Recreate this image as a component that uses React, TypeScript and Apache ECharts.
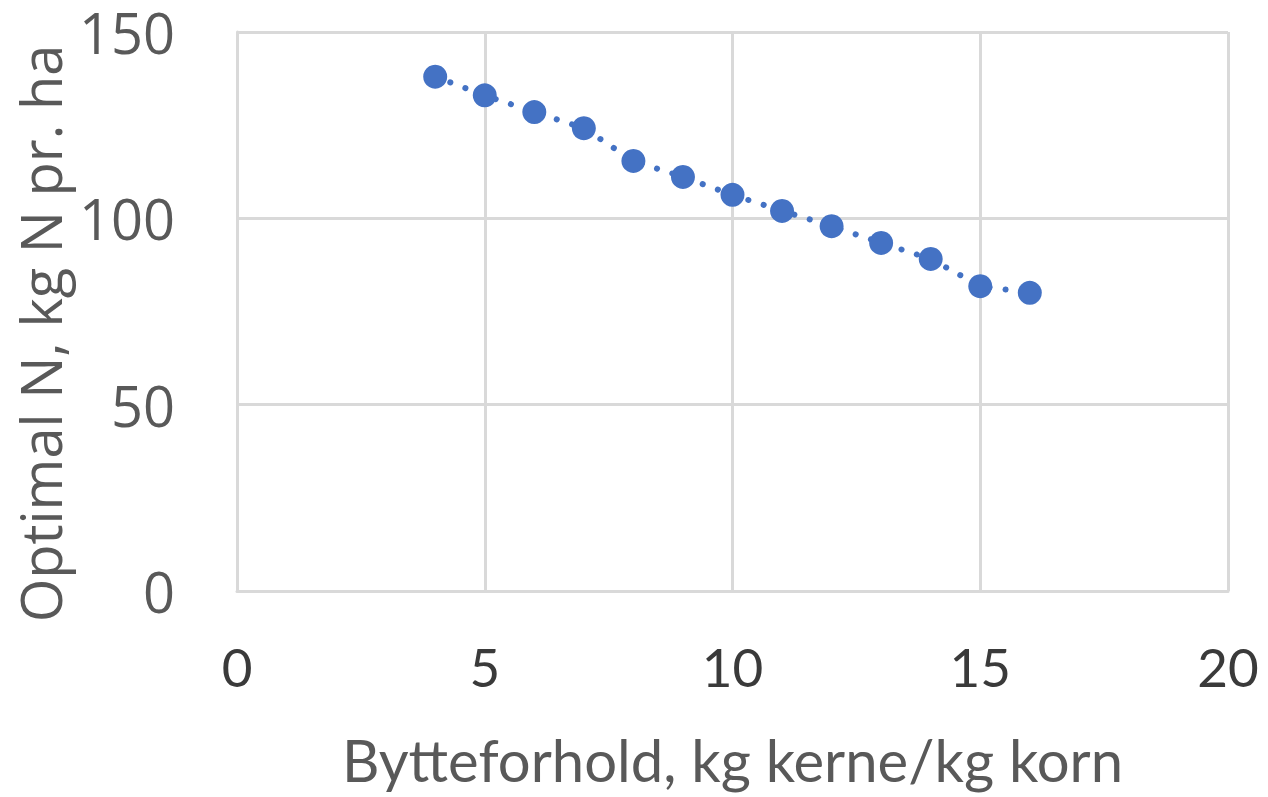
import React, { useEffect, useRef } from "react";
import * as echarts from "echarts";

const xValues = [4, 5, 6, 7, 8, 9, 10, 11, 12, 13, 14, 15, 16];
const yValues = [138, 133, 128.5, 124.2, 115.4, 111.1, 106.3, 102, 97.9, 93.4, 89.1, 81.8, 80];
const xTitle = "Bytteforhold, kg kerne/kg korn";
const yTitle = "Optimal N, kg N pr. ha";

export default function App() {
  const ref = useRef<HTMLDivElement>(null);
  useEffect(() => {
    if (!ref.current) return;
    const chart = echarts.init(ref.current, null, { renderer: "svg" });
    const gray = "#595959";
    const gridColor = "#d9d9d9";
    chart.setOption({
      animation: false,
      backgroundColor: "#ffffff",
      grid: { left: 229, right: 32, top: 24, bottom: 206, containLabel: false, outerBoundsMode: "none" },
      xAxis: {
        type: "value",
        min: 0,
        max: 20,
        interval: 5,
        name: xTitle,
        nameLocation: "middle",
        nameGap: 139,
        nameTextStyle: { fontFamily: "Lato, sans-serif", fontSize: 58, color: gray },
        axisLine: { show: true, lineStyle: { color: gridColor, width: 3 } },
        axisTick: { show: false },
        axisLabel: { margin: 49, fontFamily: "Lato, sans-serif", fontSize: 53, color: "#3a3a3a" },
        splitLine: { show: true, lineStyle: { color: gridColor, width: 3 } },
      },
      yAxis: {
        type: "value",
        min: 0,
        max: 150,
        interval: 50,
        name: yTitle,
        nameLocation: "middle",
        nameGap: 166,
        nameTextStyle: { fontFamily: "'Open Sans', sans-serif", fontSize: 56, color: gray, padding: [0, 44, 0, 0] },
        axisLine: { show: true, lineStyle: { color: gridColor, width: 3 } },
        axisTick: { show: false },
        axisLabel: { margin: 62, fontFamily: "'Open Sans', sans-serif", fontSize: 56, color: gray },
        splitLine: { show: true, lineStyle: { color: gridColor, width: 3 } },
      },
      series: [
        {
          type: "line",
          data: xValues.map((x, i) => [x, yValues[i]]),
          symbol: "circle",
          symbolSize: 24,
          itemStyle: { color: "#4472C4" },
          lineStyle: { color: "#4472C4", width: 6, type: [0.1, 16], cap: "round" },
        },
      ],
    });
    return () => chart.dispose();
  }, []);
  return <div ref={ref} style={{ width: 1252, height: 789 }} />;
}
